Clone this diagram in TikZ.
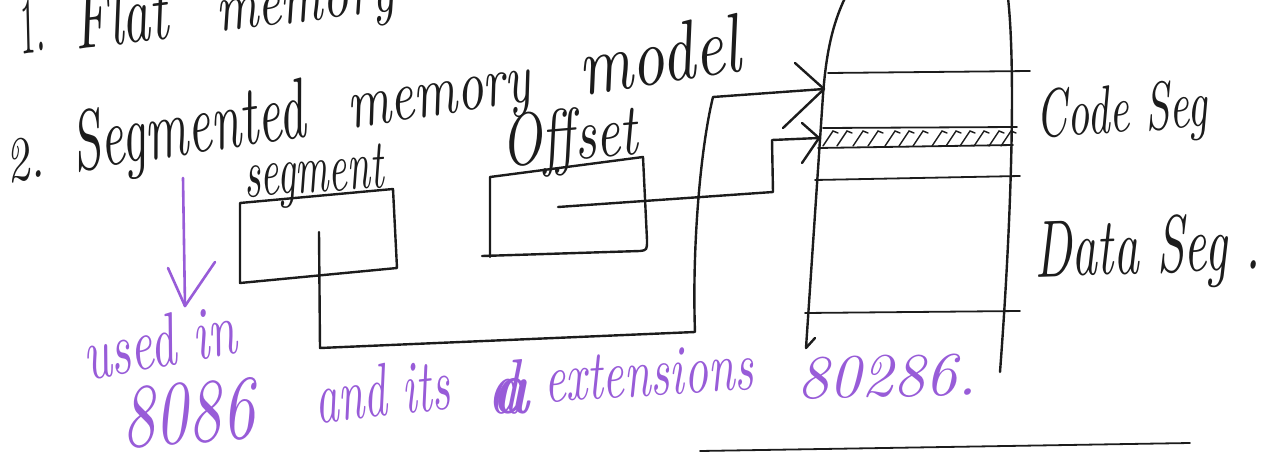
\documentclass[tikz,border=0pt]{standalone}
\usepackage{graphicx}
\usetikzlibrary{calc}

\definecolor{ink}{RGB}{28,28,28}
\definecolor{pen}{RGB}{152,92,216}

% handwritten word: width, height (above baseline), text
\newcommand\hw[3]{\resizebox{#1pt}{#2pt}{\itshape #3}}

\tikzset{
  hand/.style={anchor=base west, inner sep=0pt, outer sep=0pt, text=ink},
  note/.style={hand, text=pen},
  stroke/.style={draw=ink, line width=2.4pt, line cap=round, line join=round},
  thin/.style={draw=ink, line width=1.8pt, line cap=round, line join=round},
  pstroke/.style={draw=pen, line width=2.6pt, line cap=round, line join=round}
}

\begin{document}
\begin{tikzpicture}[x=1pt,y=-1pt]
\useasboundingbox (0,0) rectangle (1270,452);
\clip (0,0) rectangle (1270,452);

% ---- headings ----
\node[hand, rotate=7] (h1num) at (20,54) {\hw{27}{55}{1.}};
\node[hand, rotate=7] (h1a) at (76,50) {\hw{95}{58}{Flat}};
\node[hand, rotate=7] (h1b) at (218,32) {\hw{180}{30}{memory}};

\node[hand, rotate=8.5] (h2num) at (8,182) {\hw{38}{42}{2.}};
\node[hand, rotate=8.5] (h2a) at (75,171) {\hw{235}{60}{Segmented}};
\node[hand, rotate=8.5] (h2b) at (350,128) {\hw{185}{32}{memory}};
\node[hand, rotate=8.5] (h2c) at (582,95) {\hw{163}{58}{model}};

% ---- register labels ----
\node[hand, rotate=4] (segl) at (245,197) {\hw{140}{44}{segment}};
\node[hand, rotate=5] (offl) at (503,166) {\hw{137}{52}{Offset}};

% ---- memory labels ----
\node[hand, rotate=4] (codel) at (1037,138) {\hw{172}{48}{Code Seg}};
\node[hand, rotate=2] (datal) at (1035,277) {\hw{226}{57}{Data Seg .}};

% ---- segment register box ----
\draw[stroke] (240,203) -- (393,189) -- (397,268) -- (240,283) -- cycle;

% ---- offset register box ----
\draw[stroke] (482,256) -- (640,251) .. controls (647,250) .. (647,240)
  -- (643,157) -- (490,177) -- (490,257);

% ---- memory column ----
\draw[stroke] (845,-2) .. controls (832,25) and (826,55) .. (823,95)
  -- (806,348) -- (815,338);
\draw[stroke] (1008,-2) .. controls (1015,60) and (1013,200) .. (1000,372);
\draw[thin] (828,73) -- (1030,71);
\draw[thin] (823,128) -- (1017,127);
\draw[thin] (818,148) -- (1013,145);
\draw[thin] (815,180) -- (1020,176);
\draw[thin] (805,313) -- (1020,311);
% hatched band
\foreach \hx in {830,844,860,875,892,906,920,939,953,967,981,996,1008}
  \draw[draw=ink, line width=1.4pt, line cap=round]
    (\hx-7,146) -- (\hx+3,131) -- (\hx+8,133);

% ---- segment path to code segment start ----
\coordinate (sa) at (319,232);
\coordinate (sb) at (320,348);
\coordinate (sc) at (695,332);
\coordinate (sd) at (713,97);
\coordinate (stip) at (824,89);
\draw[stroke] (sa) -- (sb) -- (sc) .. controls (692,250) and (700,150) .. (sd) -- (stip);
\draw[stroke] (795,63) -- (stip) -- (783,128);

% ---- offset path into the segment ----
\coordinate (oa) at (558,207);
\coordinate (ob) at (773,192);
\coordinate (oc) at (772,140);
\coordinate (otip) at (819,138);
\draw[stroke] (oa) -- (ob) -- (oc) -- (otip);
\draw[stroke] (802,123) -- (otip) -- (802,163);

% ---- violet note ----
\coordinate (pa) at (183,178);
\coordinate (pb) at (185,306);
\draw[pstroke] (pa) -- (pb);
\draw[pstroke] (168,268) -- (pb) -- (215,262);

\node[note, rotate=10] (n1) at (87,380) {\hw{155}{52}{used in}};
\node[note, rotate=4] (n2) at (123,447) {\hw{134}{60}{8086}};
\node[note, rotate=6] (n3) at (317,423) {\hw{136}{52}{and its}};
% an "a" written over with "d"
\node[note] (n4) at (487,413) {\hw{32}{54}{\rlap{\kern0.08em\bfseries a}d}};
\node[note, rotate=3.5] (n5) at (545,402) {\hw{210}{46}{extensions}};
\node[note, rotate=1] (n6) at (797,398) {\hw{180}{41}{80286.}};

% ---- rule at the foot ----
\draw[thin] (700,451) -- (1190,443);
\end{tikzpicture}
\end{document}
